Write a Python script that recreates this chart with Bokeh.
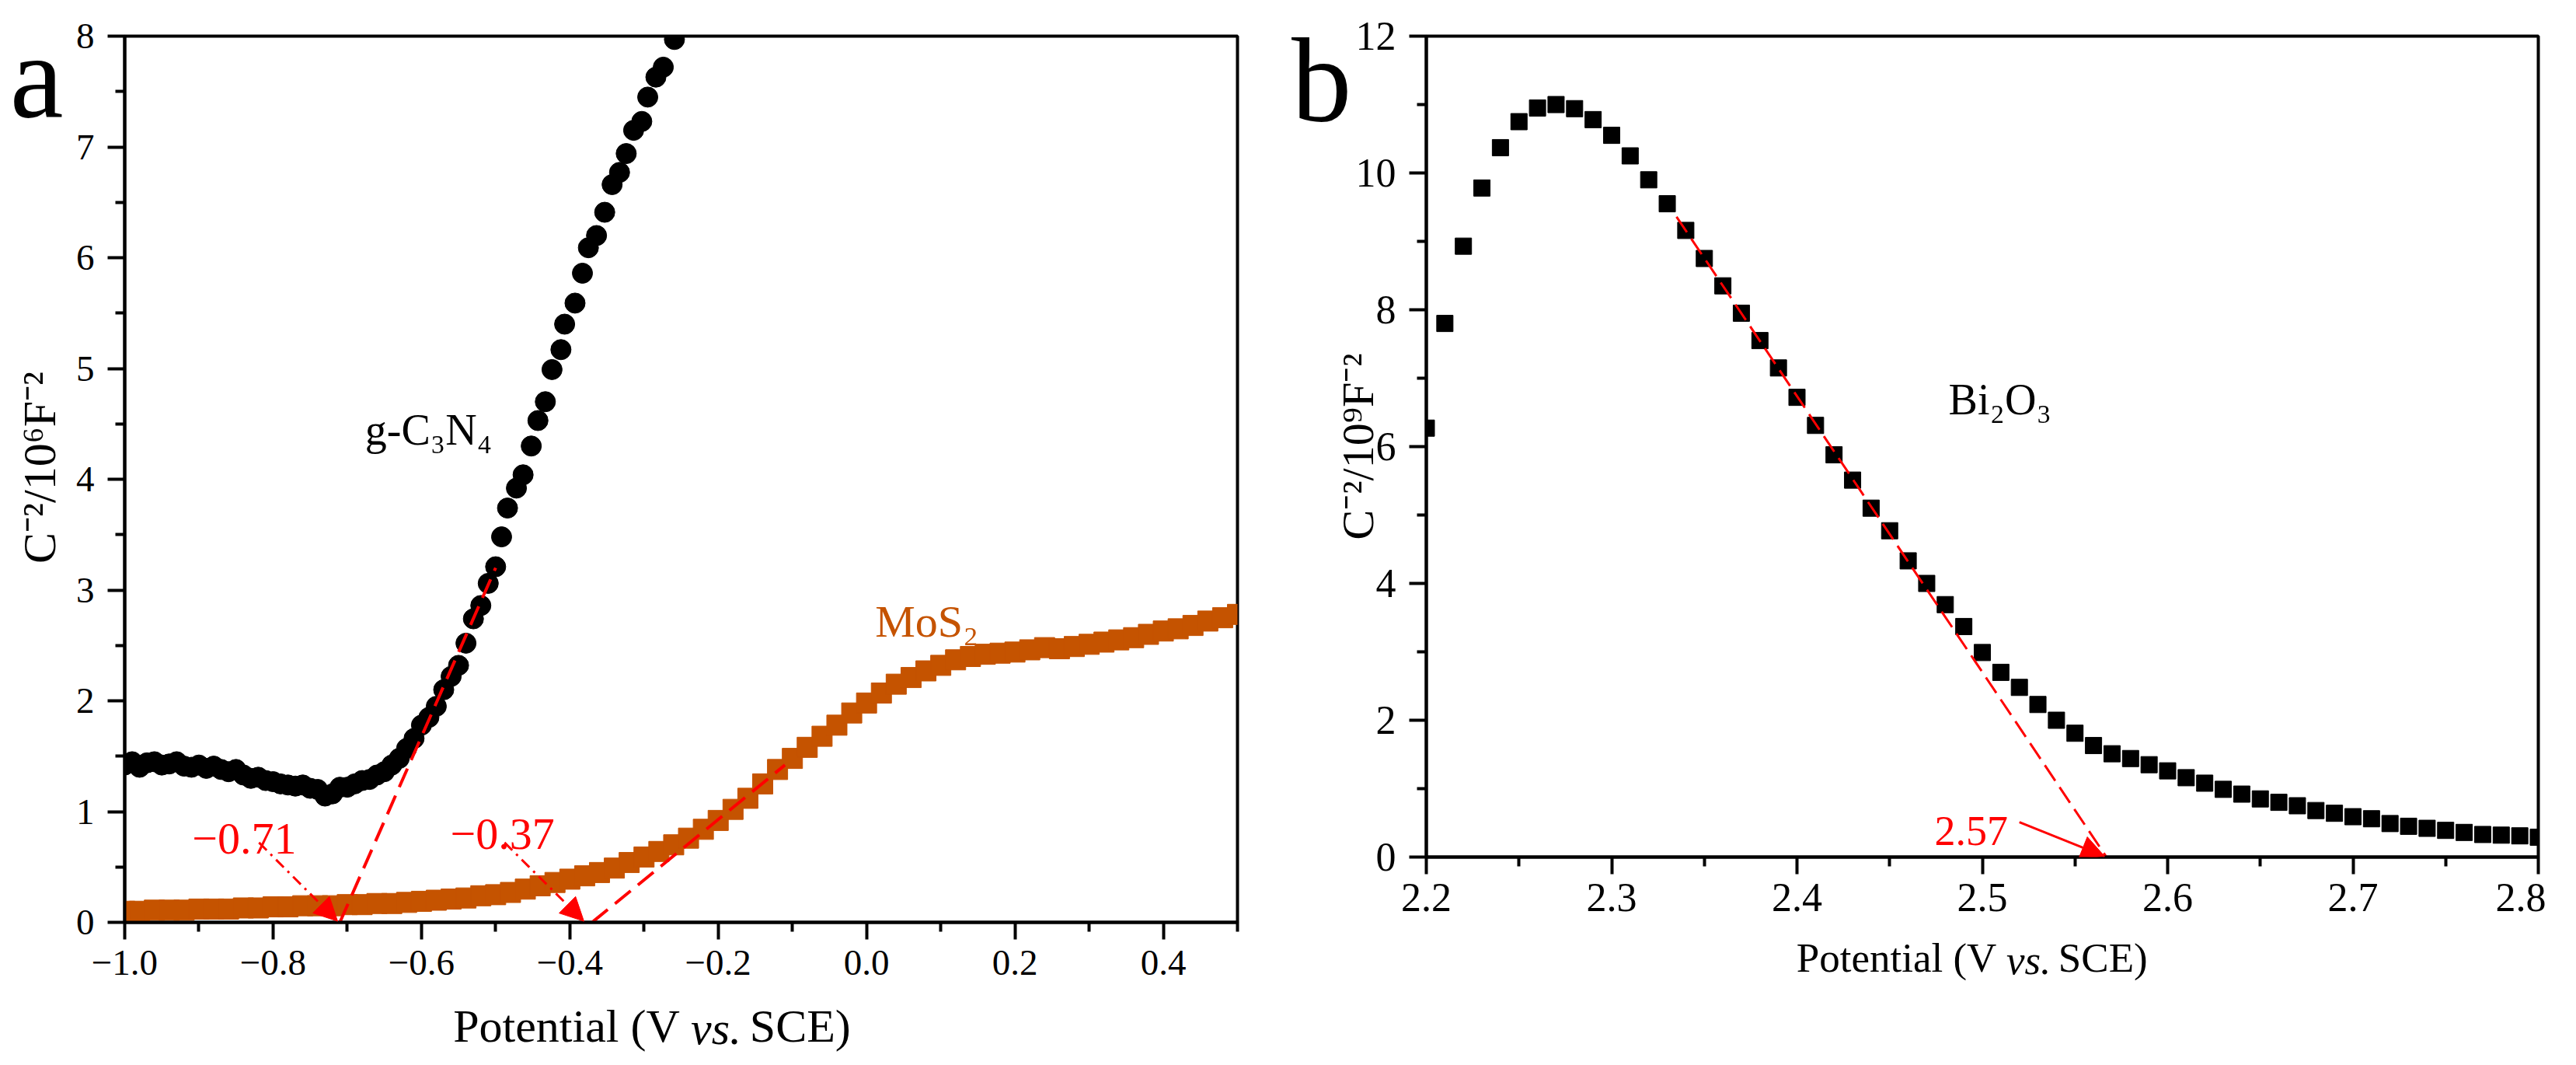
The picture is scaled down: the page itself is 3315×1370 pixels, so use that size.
import math
from bokeh.plotting import figure
from bokeh.layouts import row
from bokeh.models import FixedTicker, Label, Arrow, NormalHead, LinearAxis
from bokeh.embed import file_html
from bokeh.resources import INLINE

FONT = "Liberation Serif"
RED = "#FF0000"
ORANGE = "#C55300"
NB = "\u00a0"

# ---------------- data: panel a ----------------
gcn_x = [-1.00, -0.99, -0.98, -0.97, -0.96, -0.95, -0.94, -0.93, -0.92, -0.91,
         -0.90, -0.89, -0.88, -0.87, -0.86, -0.85, -0.84, -0.83, -0.82, -0.81,
         -0.80, -0.79, -0.78, -0.77, -0.76, -0.75, -0.74, -0.73, -0.72, -0.71,
         -0.70, -0.69, -0.68, -0.67, -0.66, -0.65, -0.64, -0.63, -0.62, -0.61,
         -0.60, -0.59, -0.58, -0.57, -0.56, -0.55, -0.54, -0.53, -0.52, -0.51,
         -0.50, -0.492, -0.484, -0.472, -0.463, -0.452, -0.443, -0.433, -0.424, -0.412,
         -0.407, -0.393, -0.383, -0.375, -0.364, -0.353, -0.343, -0.333, -0.324, -0.314,
         -0.303, -0.295, -0.284, -0.274, -0.259]
gcn_y = [1.42, 1.45, 1.40, 1.44, 1.45, 1.42, 1.43, 1.45, 1.41, 1.40,
         1.42, 1.39, 1.41, 1.38, 1.36, 1.38, 1.33, 1.30, 1.31, 1.28,
         1.27, 1.25, 1.24, 1.23, 1.24, 1.21, 1.20, 1.14, 1.16, 1.22,
         1.22, 1.25, 1.28, 1.29, 1.33, 1.36, 1.42, 1.48, 1.57, 1.66,
         1.78, 1.85, 1.95, 2.10, 2.22, 2.32, 2.52, 2.74, 2.86, 3.06,
         3.21, 3.48, 3.74, 3.92, 4.04, 4.30, 4.53, 4.70, 4.99, 5.17,
         5.40, 5.59, 5.86, 6.09, 6.20, 6.41, 6.66, 6.77, 6.94, 7.15,
         7.23, 7.45, 7.63, 7.72, 7.97]

mos2_x = [-1.00, -0.98, -0.96, -0.94, -0.92, -0.90, -0.88, -0.86, -0.84, -0.82,
          -0.80, -0.78, -0.76, -0.74, -0.72, -0.70, -0.68, -0.66, -0.64, -0.62,
          -0.60, -0.58, -0.56, -0.54, -0.52, -0.50, -0.48, -0.46, -0.44, -0.42,
          -0.40, -0.38, -0.36, -0.34, -0.32, -0.30, -0.28, -0.26, -0.24, -0.22,
          -0.20, -0.18, -0.16, -0.14, -0.12, -0.10, -0.08, -0.06, -0.04, -0.02,
          0.00, 0.02, 0.04, 0.06, 0.08, 0.10, 0.12, 0.14, 0.16, 0.18,
          0.20, 0.22, 0.24, 0.26, 0.28, 0.30, 0.32, 0.34, 0.36, 0.38,
          0.40, 0.42, 0.44, 0.46, 0.48, 0.50]
mos2_y = [0.10, 0.10, 0.11, 0.11, 0.11, 0.12, 0.12, 0.12, 0.13, 0.13,
          0.14, 0.14, 0.15, 0.15, 0.15, 0.16, 0.16, 0.17, 0.17, 0.18,
          0.19, 0.20, 0.21, 0.22, 0.24, 0.25, 0.27, 0.30, 0.33, 0.36,
          0.39, 0.42, 0.45, 0.49, 0.54, 0.59, 0.64, 0.70, 0.76, 0.84,
          0.92, 1.02, 1.12, 1.25, 1.38, 1.48, 1.58, 1.68, 1.78, 1.89,
          1.98, 2.07, 2.15, 2.21, 2.27, 2.32, 2.37, 2.40, 2.42, 2.43,
          2.44, 2.46, 2.48, 2.47, 2.49, 2.51, 2.53, 2.55, 2.57, 2.60,
          2.63, 2.65, 2.68, 2.72, 2.75, 2.78]

fit_gcn = [(-0.71, 0.0), (-0.50, 3.20)]
fit_mos2 = [(-0.37, 0.0), (-0.11, 1.42)]

# ---------------- data: panel b ----------------
bi_x = [2.20, 2.21, 2.22, 2.23, 2.24, 2.25, 2.26, 2.27, 2.28, 2.29,
        2.30, 2.31, 2.32, 2.33, 2.34, 2.35, 2.36, 2.37, 2.38, 2.39,
        2.40, 2.41, 2.42, 2.43, 2.44, 2.45, 2.46, 2.47, 2.48, 2.49,
        2.50, 2.51, 2.52, 2.53, 2.54, 2.55, 2.56, 2.57, 2.58, 2.59,
        2.60, 2.61, 2.62, 2.63, 2.64, 2.65, 2.66, 2.67, 2.68, 2.69,
        2.70, 2.71, 2.72, 2.73, 2.74, 2.75, 2.76, 2.77, 2.78, 2.79, 2.80]
bi_y = [6.27, 7.80, 8.93, 9.78, 10.37, 10.75, 10.95, 11.00, 10.94, 10.78,
        10.55, 10.25, 9.90, 9.55, 9.16, 8.75, 8.35, 7.95, 7.55, 7.15,
        6.72, 6.31, 5.88, 5.51, 5.10, 4.77, 4.33, 4.00, 3.69, 3.37,
        2.99, 2.70, 2.48, 2.23, 2.00, 1.81, 1.63, 1.51, 1.44, 1.35,
        1.26, 1.16, 1.08, 0.99, 0.92, 0.85, 0.80, 0.75, 0.68, 0.64,
        0.59, 0.56, 0.49, 0.45, 0.42, 0.39, 0.36, 0.33, 0.32, 0.31, 0.29]
fit_bi = [(2.335, 9.36), (2.567, 0.0)]

a_xticks = [-1.0, -0.8, -0.6, -0.4, -0.2, 0.0, 0.2, 0.4]
a_xminor = [-0.9, -0.7, -0.5, -0.3, -0.1, 0.1, 0.3, 0.5]
a_xlabels = ["\u22121.0", "\u22120.8", "\u22120.6", "\u22120.4", "\u22120.2", "0.0", "0.2", "0.4"]
a_yticks = [0, 1, 2, 3, 4, 5, 6, 7, 8]
a_yminor = [0.5, 1.5, 2.5, 3.5, 4.5, 5.5, 6.5, 7.5]
b_xticks = [2.2, 2.3, 2.4, 2.5, 2.6, 2.7, 2.8]
b_xminor = [2.25, 2.35, 2.45, 2.55, 2.65, 2.75]
b_xlabels = ["2.2", "2.3", "2.4", "2.5", "2.6", "2.7", "2.8"]
b_yticks = [0, 2, 4, 6, 8, 10, 12]
b_yminor = [1, 3, 5, 7, 9, 11]

# x title: "Potential (V vs. SCE)" -- the italic "vs." is set on a second, tickless axis
XT_LEFT = "Potential (V"
XT_MID = "vs."
XT_RIGHT = "SCE)"
A_YTITLE = "C\u207b\u00b2/10\u2076F\u207b\u00b2"
B_YTITLE = "C\u207b\u00b2/10\u2079F\u207b\u00b2"


def style(p, xt, xm, xl, yt, ym, xtitle, ytitle, ticksize, tsize_x, tsize_y,
          xls, xstand, ystand):
    p.xgrid.visible = False
    p.ygrid.visible = False
    p.outline_line_color = "black"
    p.outline_line_width = 4
    p.outline_line_alpha = 1.0
    p.background_fill_color = "white"
    p.border_fill_color = "white"
    p.xaxis.ticker = FixedTicker(ticks=xt, minor_ticks=xm)
    p.xaxis.major_label_overrides = {t: l for t, l in zip(xt, xl)}
    p.yaxis.ticker = FixedTicker(ticks=yt, minor_ticks=ym)
    for ax in (p.xaxis[0], p.yaxis[0]):
        ax.axis_line_width = 4
        ax.axis_line_color = "black"
        ax.major_tick_line_width = 4
        ax.minor_tick_line_width = 4
        ax.major_tick_line_color = "black"
        ax.minor_tick_line_color = "black"
        ax.major_tick_out = 22
        ax.major_tick_in = 0
        ax.minor_tick_out = 12
        ax.minor_tick_in = 0
        ax.major_label_text_font = FONT
        ax.major_label_text_font_size = f"{ticksize}px"
        ax.major_label_text_color = "black"
        ax.axis_label_text_font = FONT
        ax.axis_label_text_font_style = "normal"
        ax.axis_label_text_color = "black"
    p.xaxis.axis_label = xtitle
    p.yaxis.axis_label = ytitle
    p.xaxis.axis_label_text_font_size = f"{tsize_x}px"
    p.yaxis.axis_label_text_font_size = f"{tsize_y}px"
    p.xaxis.major_label_standoff = xls
    p.yaxis.major_label_standoff = 17
    p.xaxis.axis_label_standoff = xstand
    p.yaxis.axis_label_standoff = ystand


def bare_axis(**kw):
    return LinearAxis(ticker=FixedTicker(ticks=[], minor_ticks=[]),
                      axis_line_color=None, major_tick_line_color=None,
                      minor_tick_line_color=None,
                      major_tick_out=0, major_tick_in=0, minor_tick_out=0, minor_tick_in=0,
                      **kw)


def letter_axis(p, y, text, standoff):
    ax = bare_axis(major_label_text_font=FONT, major_label_text_font_size="155px",
                   major_label_text_color="black", major_label_standoff=standoff)
    ax.ticker = FixedTicker(ticks=[y], minor_ticks=[])
    ax.major_label_overrides = {y: text}
    p.add_layout(ax, "left")


def italic_axis(p, text, size, standoff):
    ax = bare_axis(axis_label=text, axis_label_text_font=FONT,
                   axis_label_text_font_size=f"{size}px", axis_label_text_font_style="italic",
                   axis_label_text_color="black", axis_label_standoff=standoff)
    p.add_layout(ax, "below")


def txt(p, x, y, text, size, color):
    p.add_layout(Label(x=x, y=y, text=text, text_font=FONT,
                       text_font_size=f"{size}px", text_color=color, text_align="left",
                       text_baseline="alphabetic"))


def arrow(p, x0, y0, x1, y1, dash):
    p.add_layout(Arrow(end=NormalHead(size=30, fill_color=RED, line_color=RED, line_width=1),
                       x_start=x0, y_start=y0, x_end=x1, y_end=y1,
                       line_color=RED, line_width=3, line_dash=dash))


# ---------------- panel a ----------------
pa = figure(x_range=(-1.0, 0.5), y_range=(0, 8), frame_width=1432, frame_height=1140,
            min_border_left=160, min_border_right=40, min_border_top=44, min_border_bottom=170,
            output_backend="svg", toolbar_location=None)
style(pa, a_xticks, a_xminor, a_xlabels, a_yticks, a_yminor,
      XT_LEFT + NB * 6 + XT_RIGHT + NB * 5, NB * 2 + A_YTITLE, 47, 60, 60, 14, 30, 11)
italic_axis(pa, NB * 6 + XT_MID, 60, -66)
letter_axis(pa, 7.64, "a", -67)

pa.scatter(mos2_x, mos2_y, marker="square", size=26, fill_color=ORANGE, line_color=ORANGE)
pa.scatter(gcn_x, gcn_y, marker="circle", size=26, fill_color="black", line_color="black")
pa.line([fit_gcn[0][0], fit_gcn[1][0]], [fit_gcn[0][1], fit_gcn[1][1]],
        line_color=RED, line_width=4, line_dash="26 12")
pa.line([fit_mos2[0][0], fit_mos2[1][0]], [fit_mos2[0][1], fit_mos2[1][1]],
        line_color=RED, line_width=4, line_dash="26 12")

arrow(pa, -0.819, 0.72, -0.713, 0.01, "14 7 3 7")
arrow(pa, -0.488, 0.72, -0.381, 0.01, "14 7 3 7")
txt(pa, -0.909, 0.751, "\u22120.71", 58, RED)
txt(pa, -0.561, 0.80, "\u22120.37", 58, RED)
txt(pa, -0.676, 4.449, "g-C\u2083N\u2084", 56, "black")
txt(pa, 0.0115, 2.716, "MoS\u2082", 58, ORANGE)

# ---------------- panel b ----------------
pb = figure(x_range=(2.2, 2.8), y_range=(0, 12), frame_width=1431, frame_height=1056,
            min_border_left=203, min_border_right=10, min_border_top=46, min_border_bottom=170,
            output_backend="svg", toolbar_location=None)
style(pb, b_xticks, b_xminor, b_xlabels, b_yticks, b_yminor,
      XT_LEFT + NB * 6 + XT_RIGHT + NB * 2, B_YTITLE, 52, 53, 58, 12, 28, -38)
italic_axis(pb, NB * 9 + XT_MID, 53, -58)
letter_axis(pb, 11.36, "b", -28)

pb.scatter(bi_x, bi_y, marker="square", size=21, fill_color="black", line_color="black")
pb.line([fit_bi[0][0], fit_bi[1][0]], [fit_bi[0][1], fit_bi[1][1]],
        line_color=RED, line_width=3, line_dash="24 10")
arrow(pb, 2.520, 0.51, 2.566, 0.01, "solid")
txt(pb, 2.4742, 0.386, "2.57", 54, RED)
txt(pb, 2.4818, 6.682, "Bi\u2082O\u2083", 56, "black")

layout = row(pa, pb)
open("out.html", "w").write(file_html(layout, INLINE))
